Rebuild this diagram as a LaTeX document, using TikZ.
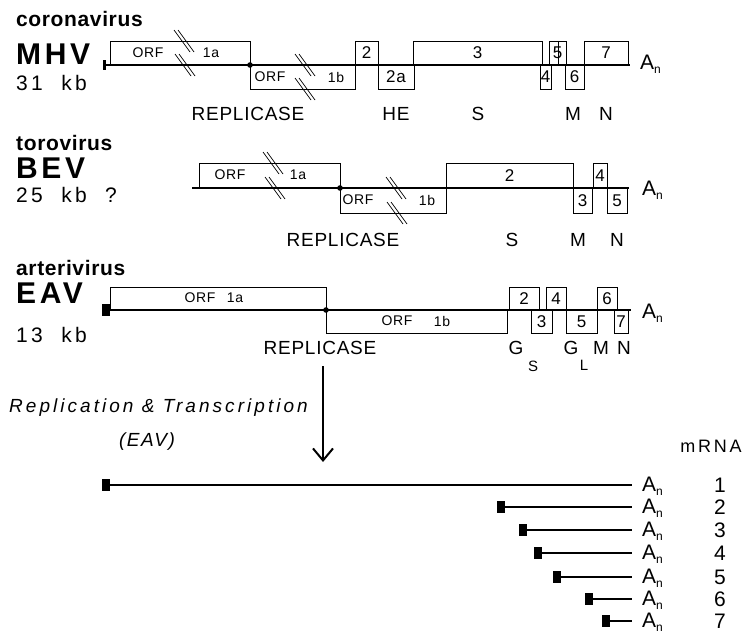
\documentclass[tikz,border=0pt]{standalone}
\usepackage{fontspec}
\setmainfont{Liberation Sans}
\newfontfamily\plotfont[LetterSpace=4]{Liberation Sans}
\usepackage{tikz}
\usetikzlibrary{arrows.meta}

\definecolor{ink}{HTML}{000000}
\newcommand{\fs}[1]{\fontsize{#1}{#1}\selectfont}
\newcommand{\polyA}{A\raisebox{-4pt}{\fs{12}n}}

\tikzset{
  orfbox/.style={draw=ink, line width=0.8pt},
  genome/.style={draw=ink, line width=1.2pt},
  boxlab/.style={font=\plotfont\fs{17}, inner sep=0pt},
  orflab/.style={font=\plotfont\fs{14}, inner sep=0pt},
  protlab/.style={font=\plotfont\fs{19}, inner sep=0pt},
  family/.style={font=\bfseries\fs{21}\addfontfeature{LetterSpace=3}, anchor=base west, inner sep=0pt},
  virus/.style={font=\bfseries\fs{30}\addfontfeature{LetterSpace=12}, anchor=base west, inner sep=0pt},
  kblab/.style={font=\plotfont\fs{21}\addfontfeature{LetterSpace=16}, anchor=base west, inner sep=0pt},
  polya/.style={font=\plotfont\fs{21}, anchor=base west, inner sep=0pt},
  numlab/.style={font=\plotfont\fs{21}, inner sep=0pt},
  orfbreak/.pic={
    \draw[line width=0.7pt] (-10,-11) -- (6,11);
    \draw[line width=0.7pt] (-6,-11) -- (10,11);
  },
}

\begin{document}
\begin{tikzpicture}[x=1pt, y=-1pt]
  \useasboundingbox (0,0) rectangle (747,634);

  % coronavirus
  \node[family] (corona) at (16,27) {coronavirus};
  \node[virus] (mhv) at (16,65) {MHV};
  \node[kblab] (mhvkb) at (16,90) {31\ \ kb};
  \fill[ink] (103,60) rectangle (106,70);
  \coordinate (mhv5) at (103,65);
  \coordinate (mhv3) at (630,65);
  \draw[genome] (mhv5) -- (mhv3);
  \draw[orfbox] (110,41) rectangle (250,65);
  \draw[orfbox] (250,65) rectangle (355,89);
  \fill[ink] (250,65) circle (2.8);
  \pic at (184,41) {orfbreak};
  \pic at (185,65) {orfbreak};
  \pic at (305,65) {orfbreak};
  \pic at (305,89) {orfbreak};
  \node[orflab] (mhvorfa) at (148,53) {ORF};
  \node[orflab] (mhv1a) at (211,53) {1a};
  \node[orflab] (mhvorfb) at (270,77) {ORF};
  \node[orflab] (mhv1b) at (336,77) {1b};
  \foreach \xa/\xb/\ya/\yb/\lab in {355/378/41/65/2, 378/414/65/89/2a,
      413/542/41/65/3, 540/551/65/89/4, 549/566/41/65/5, 565/584/65/89/6,
      584/628/41/65/7}{
    \draw[orfbox] (\xa,\ya) rectangle (\xb,\yb);
    \node[boxlab] (mhv\lab) at ({(\xa+\xb)/2},{(\ya+\yb)/2}) {\lab};
  }
  \draw[orfbox] (558,41) -- (558,65);
  \node[polya] (mhvA) at (640,70) {\polyA};
  \node[protlab] (mhvrep) at (248,114) {REPLICASE};
  \foreach \x/\lab/\nm in {396/HE/he, 478/S/s, 573/M/m, 606/N/n}
    \node[protlab] (mhv\nm) at (\x,114) {\lab};

  % torovirus
  \node[family] (toro) at (16,150) {torovirus};
  \node[virus] (bev) at (16,178) {BEV};
  \node[kblab] (bevkb) at (16,202) {25\ \ kb\ \ ?};
  \coordinate (bev5) at (192,188);
  \coordinate (bev3) at (629,188);
  \draw[genome] (bev5) -- (bev3);
  \draw[orfbox] (199,163) rectangle (340,188);
  \draw[orfbox] (340,188) rectangle (446,213);
  \fill[ink] (340,188) circle (2.8);
  \pic at (273,163) {orfbreak};
  \pic at (275,188) {orfbreak};
  \pic at (396,188) {orfbreak};
  \pic at (397,213) {orfbreak};
  \node[orflab] (beviorfa) at (230,175) {ORF};
  \node[orflab] (bev1a) at (298,175) {1a};
  \node[orflab] (bevorfb) at (358,200) {ORF};
  \node[orflab] (bev1b) at (427,200) {1b};
  \foreach \xa/\xb/\ya/\yb/\lab in {446/573/163/188/2, 573/592/188/213/3,
      593/607/163/188/4, 607/627/188/213/5}{
    \draw[orfbox] (\xa,\ya) rectangle (\xb,\yb);
    \node[boxlab] (bev\lab) at ({(\xa+\xb)/2},{(\ya+\yb)/2}) {\lab};
  }
  \node[polya] (bevA) at (642,195) {\polyA};
  \node[protlab] (bevrep) at (343,240) {REPLICASE};
  \foreach \x/\lab/\nm in {512/S/s, 578/M/m, 617/N/n}
    \node[protlab] (bev\nm) at (\x,240) {\lab};

  % arterivirus
  \node[family] (arteri) at (16,275) {arterivirus};
  \node[virus] (eav) at (16,303) {EAV};
  \node[kblab] (eavkb) at (16,342) {13\ \ kb};
  \fill[ink] (102,304) rectangle (110,316);
  \coordinate (eav5) at (110,310);
  \coordinate (eav3) at (631,310);
  \draw[genome] (eav5) -- (eav3);
  \draw[orfbox] (110,287) rectangle (326,310);
  \draw[orfbox] (326,310) rectangle (507,333);
  \fill[ink] (326,310) circle (2.8);
  \node[orflab] (eavorfa) at (200,298) {ORF};
  \node[orflab] (eav1a) at (235,298) {1a};
  \node[orflab] (eavorfb) at (397,321) {ORF};
  \node[orflab] (eav1b) at (442,321) {1b};
  \foreach \xa/\xb/\ya/\yb/\lab in {509/539/287/310/2, 531/552/310/333/3,
      546/566/287/310/4, 566/597/310/333/5, 597/617/287/310/6,
      614/628/310/333/7}{
    \draw[orfbox] (\xa,\ya) rectangle (\xb,\yb);
    \node[boxlab] (eav\lab) at ({(\xa+\xb)/2},{(\ya+\yb)/2}) {\lab};
  }
  \node[polya] (eavA) at (642,318) {\polyA};
  \node[protlab] (eavrep) at (320,348) {REPLICASE};
  \node[protlab] (eavgs) at (516,348) {G};
  \node[protlab, font=\plotfont\fs{15}] (eavgss) at (533,366) {S};
  \node[protlab] (eavgl) at (571,348) {G};
  \node[protlab, font=\plotfont\fs{15}] (eavgll) at (584,365) {L};
  \node[protlab] (eavm) at (601,348) {M};
  \node[protlab] (eavn) at (624,348) {N};

  % replication and transcription
  \coordinate (rtop) at (323,366);
  \coordinate (rbot) at (323,462);
  \draw[ink, line width=2pt, -{Straight Barb[length=12pt,width=20pt]}] (rtop) -- (rbot);
  \node[font=\plotfont\itshape\fs{19}\addfontfeature{LetterSpace=16}, anchor=base east, inner sep=0pt]
    (repl) at (308,412) {Replication \& Transcription};
  \node[font=\plotfont\itshape\fs{19}\addfontfeature{LetterSpace=8}, anchor=base, inner sep=0pt]
    (replv) at (147,446) {(EAV)};

  % subgenomic mRNAs
  \node[font=\plotfont\fs{18}\addfontfeature{LetterSpace=15}, inner sep=0pt] (mrna) at (711,446) {mRNA};
  \foreach \n/\xs/\y in {1/102/485, 2/497/507, 3/519/530, 4/534/553,
      5/553/577, 6/585/599, 7/602/621}{
    \fill[ink] (\xs,\y-6) rectangle (\xs+8,\y+6);
    \coordinate (m\n s) at (\xs+8,\y);
    \coordinate (m\n e) at (632,\y);
    \draw[genome] (m\n s) -- (m\n e);
    \node[polya] (m\n A) at (642,\y+6) {\polyA};
    \node[numlab] (m\n num) at (720,\y) {\n};
  }
\end{tikzpicture}
\end{document}
